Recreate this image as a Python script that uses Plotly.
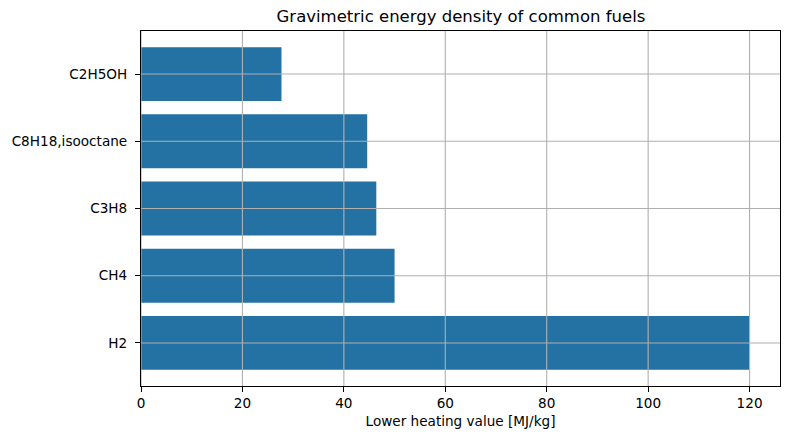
import plotly.graph_objects as go

# -------------------------
# Data
# -------------------------
fuels = ["H2", "CH4", "C3H8", "C8H18,isooctane", "C2H5OH"]
lhv = [120.0, 50.0, 46.4, 44.6, 27.7]   # MJ/kg
x_ticks = [0, 20, 40, 60, 80, 100, 120]

bar_color = "#2471a3"
grid_color = "#b0b0b0"
font = "DejaVu Sans"

fig = go.Figure()
fig.add_trace(go.Bar(
    x=lhv, y=fuels, orientation="h",
    marker=dict(color=bar_color, line=dict(width=0)),
    width=0.8,
))

# matplotlib draws the grid on top of the bars here
shapes = []
for t in x_ticks:
    shapes.append(dict(type="line", xref="x", yref="paper", x0=t, x1=t, y0=0, y1=1,
                       line=dict(color=grid_color, width=1.1), layer="above"))
for f in fuels:
    shapes.append(dict(type="line", xref="paper", yref="y", x0=0, x1=1, y0=f, y1=f,
                       line=dict(color=grid_color, width=1.1), layer="above"))

fig.update_layout(
    width=790, height=440,
    margin=dict(l=141, r=10, t=31, b=54),
    plot_bgcolor="white", paper_bgcolor="white",
    showlegend=False,
    font=dict(family=font, size=13.6, color="black"),
    title=dict(text="Gravimetric energy density of common fuels",
               x=0.5835, xanchor="center", y=0.962, yanchor="middle",
               font=dict(size=16.5, color="black")),
    shapes=shapes,
    xaxis=dict(
        range=[0, 126], tickvals=x_ticks, showgrid=False, zeroline=False,
        showline=True, linecolor="black", linewidth=1.1, mirror=True,
        ticks="outside", ticklen=5, tickwidth=1.1, tickcolor="black",
        title=dict(text="Lower heating value [MJ/kg]", standoff=6, font=dict(size=13.6)),
    ),
    yaxis=dict(
        type="category", range=[-0.64, 4.64], showgrid=False, zeroline=False,
        showline=True, linecolor="black", linewidth=1.1, mirror=True,
        ticks="outside", ticklen=5, tickwidth=1.1, tickcolor="black",
        ticklabelstandoff=5,
    ),
)

fig.write_html("out.html", config={"displayModeBar": False},
               post_script="document.body.style.margin='0';")
